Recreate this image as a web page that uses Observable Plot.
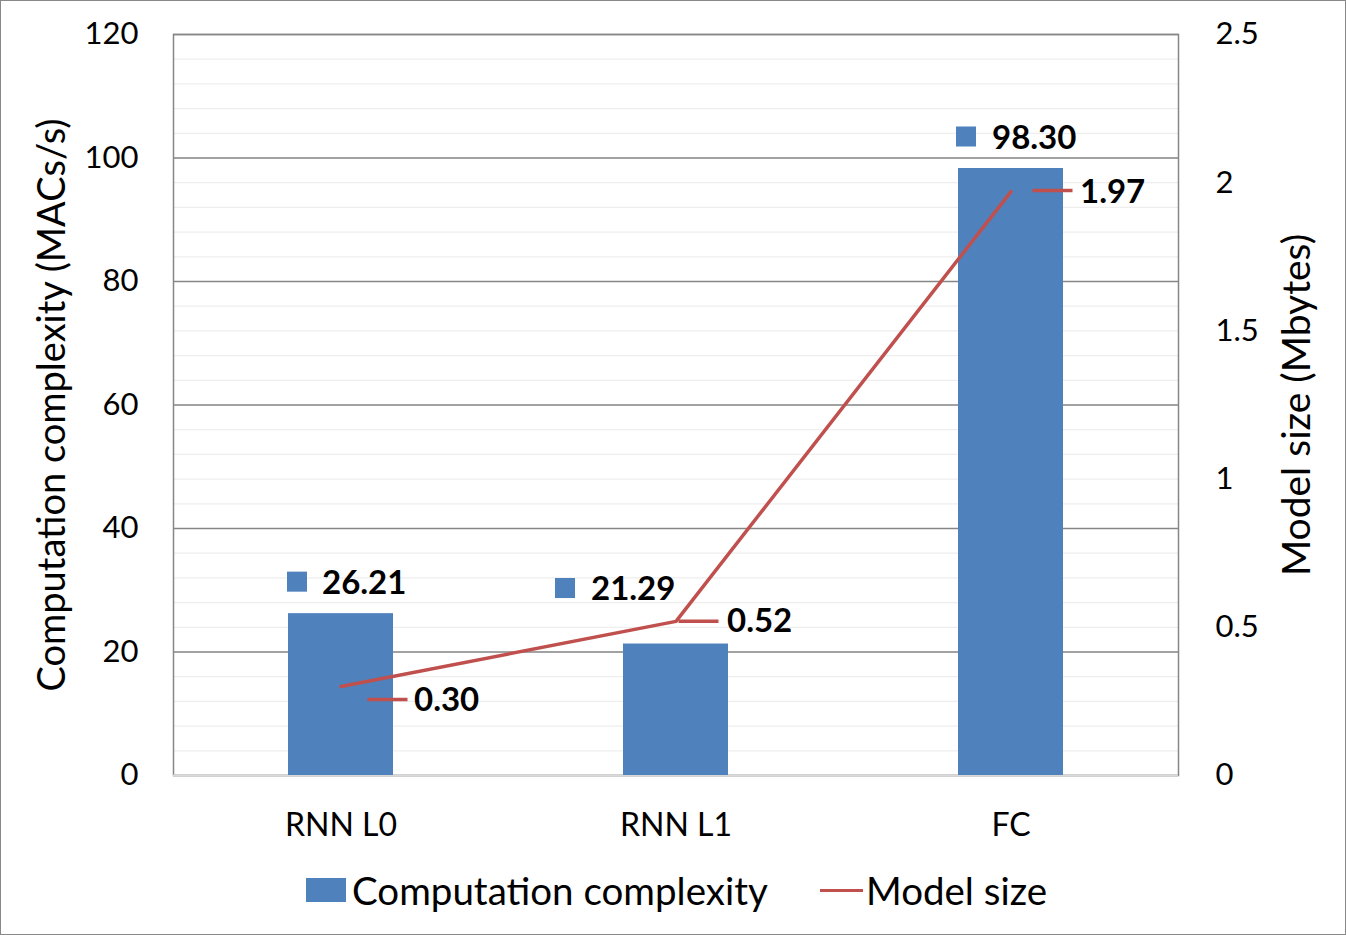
<!DOCTYPE html>
<html>
<head>
<meta charset="utf-8">
<script src="https://cdn.jsdelivr.net/npm/d3@7"></script>
<script src="https://cdn.jsdelivr.net/npm/@observablehq/plot@0.6"></script>
<style>
  html, body { margin: 0; padding: 0; background: #fff; }
  #wrap { position: relative; width: 1344px; height: 933px; border: 1px solid #888; overflow: hidden; font-family: Lato, "Noto Sans", sans-serif; }
  #chart svg { display: block; }
  #legend { position: absolute; left: 0; top: 859px; width: 1344px; height: 62px; }
  .key { position: absolute; }
  .lt { position: absolute; font-size: 38.5px; color: #000; line-height: 1; }
</style>
</head>
<body>
<div id="wrap">
  <div id="chart"></div>
  <div id="legend">
    <div class="key" style="left:305px; top:18px; width:40px; height:24px; background:#4F81BD;"></div>
    <div class="lt" style="left:351px; top:11px;">Computation complexity</div>
    <div class="key" style="left:819px; top:29px; width:43px; height:3px; background:#C0504D;"></div>
    <div class="lt" style="left:865px; top:11px;">Model size</div>
  </div>
</div>
<script>
const categories = ["RNN L0", "RNN L1", "FC"];
const complexity = [26.21, 21.29, 98.30];
const modelSize = [0.30, 0.52, 1.97];
const leftTicks = [0, 20, 40, 60, 80, 100, 120];
const minorTicks = d3.range(0, 121, 4);
const rightTicks = [0, 0.5, 1, 1.5, 2, 2.5];
const leftMax = 120, rightMax = 2.5;
const k = leftMax / rightMax;

const rows = categories.map((c, i) => ({cat: c, comp: complexity[i], size: modelSize[i], sizeScaled: modelSize[i] * k}));

// label placement offsets (pixels), styling only
const barLabelOffsets = [
  {sq: [-44, -32], tx: [-19, -30]},
  {sq: [-111, -56], tx: [-85, -55]},
  {sq: [-45, -32], tx: [-19, -30]}
];
const lineLabelOffsets = [
  {dash: [47, 13], tx: [73, 14]},
  {dash: [23, 0], tx: [51, 0]},
  {dash: [42, -1], tx: [69, 1]}
];

const fmt = d3.format(".2f");
const blue = "#4F81BD", red = "#C0504D";

const marks = [
  Plot.ruleY(minorTicks, {stroke: "#eeeeee", strokeWidth: 1.2}),
  Plot.ruleY(leftTicks, {stroke: "#868686", strokeWidth: 1.5}),
  Plot.frame({stroke: "#868686", strokeWidth: 1.5}),
  Plot.ruleY([0], {stroke: "#d9d9d9", strokeWidth: 2}),
  Plot.barY(rows, {x: "cat", y: "comp", fill: blue}),
  Plot.line(rows, {x: "cat", y: "sizeScaled", stroke: red, strokeWidth: 3.5}),
  Plot.axisY(leftTicks, {anchor: "left", tickSize: 0, tickPadding: 35, fontSize: 31, label: null, tickFormat: d => d}),
  Plot.axisY(rightTicks.map(v => v * k), {anchor: "right", tickSize: 0, tickPadding: 37, fontSize: 31, label: null, tickFormat: d => String(+(d / k).toFixed(2))}),
  Plot.axisX({tickSize: 0, tickPadding: 38, fontSize: 32, label: null}),
  Plot.text(["Computation complexity (MACs/s)"], {frameAnchor: "left", dx: -121, rotate: -90, textAnchor: "middle", fontSize: 38, text: d => d, fill: "#000"}),
  Plot.text(["Model size (Mbytes)"], {frameAnchor: "right", dx: 119, rotate: -90, textAnchor: "middle", fontSize: 39, text: d => d, fill: "#000"})
];

rows.forEach((r, i) => {
  const b = barLabelOffsets[i];
  marks.push(Plot.dot([r], {x: "cat", y: "comp", symbol: "square", r: 11.3, fill: blue, stroke: "none", dx: b.sq[0], dy: b.sq[1]}));
  marks.push(Plot.text([r], {x: "cat", y: "comp", text: d => fmt(d.comp), textAnchor: "start", fontSize: 33, fontWeight: "bold", fill: "#000", dx: b.tx[0], dy: b.tx[1]}));
  const l = lineLabelOffsets[i];
  marks.push(Plot.tickY([r], {x: "cat", y: "sizeScaled", stroke: red, strokeWidth: 3.5, insetLeft: 32.5, insetRight: 32.5, dx: l.dash[0], dy: l.dash[1]}));
  marks.push(Plot.text([r], {x: "cat", y: "sizeScaled", text: d => fmt(d.size), textAnchor: "start", fontSize: 33, fontWeight: "bold", fill: "#000", dx: l.tx[0], dy: l.tx[1]}));
});

const chart = Plot.plot({
  width: 1344,
  height: 859,
  marginLeft: 172,
  marginRight: 167,
  marginTop: 33,
  marginBottom: 85,
  style: {fontFamily: "Lato, 'Noto Sans', sans-serif", color: "#000", background: "#fff"},
  x: {type: "band", domain: categories, paddingInner: 0.687, paddingOuter: 0.3435, axis: null},
  y: {domain: [0, leftMax], axis: null},
  marks
});
document.getElementById("chart").appendChild(chart);
</script>
</body>
</html>
